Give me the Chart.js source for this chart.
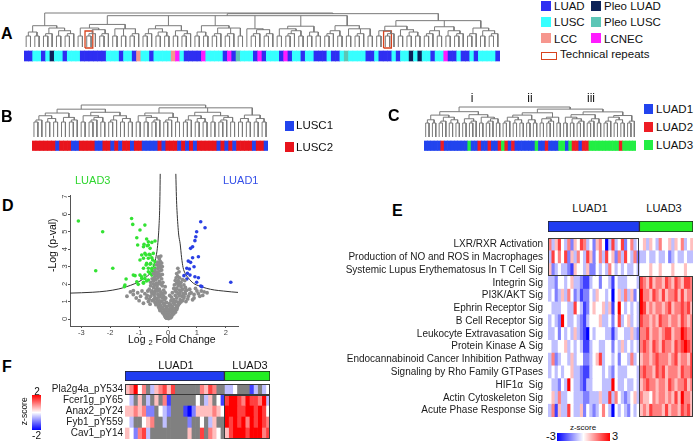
<!DOCTYPE html>
<html>
<head>
<meta charset="utf-8">
<script src="https://cdn.jsdelivr.net/npm/chart.js@4.4.1/dist/chart.umd.min.js"></script>
<style>
body { margin:0; background:#fff; width:695px; height:441px; position:relative; overflow:hidden;
       font-family:"Liberation Sans", Arial, sans-serif; color:#111; }
canvas, .t, .sq { position:absolute; }
.t { white-space:pre; line-height:1; }
.L { font-weight:bold; font-size:16px; color:#000; }
</style>
</head>
<body>
<canvas id="cA" width="476" height="54" style="left:24px;top:10px"></canvas>
<canvas id="cB" width="236" height="54" style="left:32px;top:100px"></canvas>
<canvas id="cC" width="212" height="54" style="left:424px;top:100px"></canvas>
<canvas id="cD" width="215" height="185" style="left:30px;top:165px"></canvas>
<canvas id="cEh" width="145" height="11" style="left:548px;top:221px"></canvas>
<canvas id="cE" width="393" height="179" style="left:300px;top:238px"></canvas>
<canvas id="cFh" width="145" height="10" style="left:125px;top:371px"></canvas>
<canvas id="cF" width="247" height="55" style="left:23px;top:384px"></canvas>
<script>
// ---- panel A: histology per sample, clustering tree ----
const classesA = "BBSSBSNSSB" + "SSSBBBBBBS" + "SSBSSBCSSB" + "SSSSCMSBBB" + "BMSSSSBMBT" +
                 "SSSBMBSSSB" + "MBSSBSSBBB" + "SBBSTSSSSB" + "BSBBBSBSSN" + "SNSSBSSMBB" + "SBBSBSSSSB";
const treeA = "(((22)(3(23)))((((2(33))(223))((3(22))(23))((22)(332))(1(33))((2(32))(22))((32)(232)))(((23)(2(22)))((32)(23))(3(23)))))";
const repeatPairs = [[14, 15], [83, 84]];
const legendA = [["B", "LUAD"], ["N", "Pleo LUAD"], ["S", "LUSC"], ["T", "Pleo LUSC"], ["C", "LCC"], ["M", "LCNEC"]];

// ---- panel B: LUSC subtypes ----
const classesB = "2222221222" + "1122221122" + "1212212211" + "1121222121" + "2122222121" + "2122221221";
const treeB = "((((3(22))(23))((2(32))(3(22))))(((2(23))(32))((3(22))(2(32)))((22)(22))))";
const legendB = [["1", "LUSC1"], ["2", "LUSC2"]];

// ---- panel C: LUAD subtypes ----
const classesC = "1111121111" + "1113112112" + "1123212111" + "1113112111" + "3313221223" + "3333333323" + "333";
const treeC = "((((22)(3(22)))((23)(2(32))))((((3(22))(22))((23)2))(((2(23))(32))((3(22))3))))";
const legendC = [["1", "LUAD1"], ["2", "LUAD2"], ["3", "LUAD3"]];
const clusterNames = ["i", "ii", "iii"];

// ---- panel D: volcano (log2 fold change, -log p) ----
const greyPts = [
  [-0.05,0.05],[0.02,0.03],[0.06,0.1],[-0.1,0.15],[0.1,0.2],[-0.02,0.2],[0.04,0.28],[-0.14,0.3],[0.15,0.3],[0,0.12],[-0.07,0.25],[0.12,0.12],[-0.03,0.32],
  [-0.2,0.4],[-0.12,0.45],[-0.05,0.38],[0.05,0.42],[0.12,0.5],[0.2,0.45],[-0.25,0.55],[0.25,0.6],[-0.08,0.55],[0.08,0.6],[0.17,0.35],[-0.17,0.58],[0.22,0.52],[-0.28,0.48],
  [-0.33,0.7],[-0.27,0.8],[-0.2,0.65],[-0.15,0.9],[-0.1,0.75],[0.1,0.8],[0.15,0.7],[0.22,0.85],[0.3,0.75],[0.35,0.95],[-0.38,0.95],[-0.22,1.0],[0.28,1.0],[0.4,0.9],
  [-0.42,0.82],[-0.3,0.92],[0.18,0.95],[0.32,0.65],[-0.05,0.7],[0.05,0.88],
  [-0.5,1.1],[-0.45,1.25],[-0.4,1.15],[-0.35,1.4],[-0.3,1.05],[-0.28,1.3],[-0.2,1.2],[-0.18,1.45],[-0.12,1.1],[0.12,1.25],[0.2,1.1],[0.25,1.35],[0.3,1.2],
  [0.35,1.45],[0.42,1.1],[0.48,1.3],[0.55,1.2],[0.6,1.45],[-0.55,1.45],[-0.6,1.3],[-0.48,1.38],[-0.38,1.02],[-0.25,1.42],[0.38,1.32],[0.5,1.05],[-0.15,1.3],
  [-1.3,1.55],[-1.2,1.4],[-1.05,1.5],[-0.95,1.3],[-0.9,1.6],[-0.8,1.45],[-0.75,1.2],[-0.7,1.6],[-0.68,1.0],[-1.1,1.2],[-0.85,0.9],[0.7,1.3],[0.8,1.5],
  [0.9,1.4],[1.0,1.6],[1.1,1.3],[1.25,1.55],[1.35,1.5],[0.75,1.7],[0.95,1.75],[0.65,1.65],[0.85,1.1],[1.2,1.35],[-1.42,1.3],[-0.62,0.85],[0.62,1.0],
  [-0.65,1.7],[-0.6,1.9],[-0.55,1.6],[-0.5,1.8],[-0.45,1.95],[-0.42,1.65],[-0.38,1.85],[-0.3,1.7],[-0.25,1.55],[-0.2,1.9],[0.25,1.6],[0.3,1.75],[0.35,1.9],
  [0.4,1.65],[0.45,1.85],[0.5,1.7],[0.55,1.95],[0.6,1.8],[-0.35,1.6],[-0.52,1.52],
  [-0.6,2.1],[-0.55,2.3],[-0.5,2.2],[-0.45,2.45],[-0.4,2.05],[-0.35,2.35],[-0.3,2.15],[-0.28,2.45],[-0.25,2.0],[0.3,2.05],[0.35,2.2],[0.4,2.35],[0.45,2.1],
  [0.5,2.25],[0.33,2.45],[-0.42,2.25],
  [-0.5,2.6],[-0.45,2.8],[-0.4,2.65],[-0.35,2.9],[-0.3,2.55],[-0.28,2.75],[-0.25,2.95],[-0.38,2.5],
  [-0.4,3.1],[-0.35,3.25],[-0.3,3.05],[-0.3,3.45],[-0.27,3.3],[-0.25,3.6],[-0.33,3.55],
  [-0.08,0.08],[0.08,0.06],[-0.12,0.22],[0.14,0.22],[-0.18,0.35],[0.2,0.3],[-0.22,0.62],[0.26,0.4],[-0.3,0.6],[0.3,0.55],[-0.35,0.85],[0.36,0.8],
  [-0.45,0.95],[0.45,0.98],[-0.25,0.72],[0.2,0.6],[-0.14,0.8],[0.0,0.55],[0.02,0.75],[-0.05,0.95],[0.1,1.05],[-0.08,1.2],[0.06,1.35],[-0.1,1.5],
  [0.15,1.5],[0.2,1.75],[-0.15,1.65],[-0.1,1.85],[0.22,1.95],[-0.18,2.1],[0.25,2.2],[-0.22,2.3],[0.28,2.35],[-0.2,2.55],[0.3,2.6],[-0.22,2.8],
  [0.38,2.7],[-0.2,3.0],[-0.22,3.2],[0.34,2.9],[-0.55,1.05],[-0.65,1.15],[-0.72,1.35],[-0.58,1.55],[0.68,1.15],[0.75,1.45],[0.6,1.6],[0.52,1.45],
  [0.45,1.6],[-0.45,1.5],[-0.32,1.25],[-0.4,1.7],[0.4,1.45],[0.3,1.55],[-0.5,2.0],[-0.35,2.0],[0.42,2.0],[-0.48,2.35],[0.38,2.1],[-0.42,2.55],
  [-0.35,2.7],[-0.32,3.0],[-0.28,3.15],[0.58,2.2],[0.55,1.3],[-1.0,1.05],[-1.2,1.62],[1.05,1.45],[1.15,1.6],[0.9,1.2]
];
const greenPts = [
  [-3.10,5.60],[-2.26,4.99],[-2.50,2.76],[-1.91,2.90],[-1.26,5.75],[-1.22,5.41],[-0.80,5.37],[-0.97,5.09],[-1.08,4.65],[-0.74,4.57],[-1.05,4.23],
  [-0.85,4.13],[-0.68,4.23],[-0.56,4.38],[-0.45,4.46],[-0.83,4.27],[-0.72,4.19],[-0.68,4.42],[-0.62,4.04],[-0.91,3.66],[-0.80,3.75],[-0.68,3.47],
  [-0.62,3.66],[-0.51,3.75],[-0.76,3.66],[-0.65,3.70],[-0.56,3.50],[-0.97,3.37],[-0.85,3.47],[-0.74,3.18],[-0.60,3.18],[-0.53,3.37],[-0.48,3.09],
  [-0.76,3.09],[-0.62,3.13],[-0.45,3.28],[-0.68,2.90],[-0.56,2.80],[-0.45,2.90],[-0.85,2.90],[-0.56,2.90],[-0.62,2.61],[-0.51,2.70],[-0.68,2.70],
  [-0.56,2.51],[-0.80,2.51],[-0.97,2.51],[-1.20,2.51],[-1.14,2.48],[-0.91,2.42],[-0.80,2.32],[-0.91,2.32],[-0.68,2.23],[-1.08,2.13],[-0.85,2.10],
  [-0.74,2.17],[-1.03,1.98],[-0.85,2.04],[-1.45,2.29],[-1.49,1.94],[-1.51,1.85],[-0.45,2.61]
];
const bluePts = [
  [1.13,5.56],[1.28,5.22],[0.99,4.99],[0.96,4.70],[0.93,4.48],[0.85,4.13],[0.78,4.04],[1.05,3.56],[0.85,3.50],[0.70,3.31],[0.78,3.24],[0.90,2.99],
  [0.65,2.90],[0.74,2.86],[0.67,2.61],[0.76,2.51],[0.93,2.42],[1.05,2.36],[0.65,2.29],[0.99,2.10],[1.13,1.89],[1.17,1.85],[2.17,2.10],[0.55,2.48]
];
const cutLeft = [[-3.39,1.48],[-2.6,1.53],[-2.12,1.6],[-1.7,1.72],[-1.43,1.85],[-1.15,2.02],[-0.97,2.17],[-0.78,2.38],[-0.62,2.61],[-0.52,2.95],
  [-0.45,3.28],[-0.4,3.7],[-0.37,4.04],[-0.33,4.8],[-0.31,5.37],[-0.29,6.2],[-0.28,7.0],[-0.27,8.3]];
const cutRight = [[0.27,8.3],[0.29,7.0],[0.31,6.2],[0.34,5.4],[0.37,4.8],[0.42,4.3],[0.47,3.5],[0.52,2.95],[0.59,2.61],[0.7,2.35],[0.88,2.04],
  [1.1,1.88],[1.34,1.75],[1.6,1.66],[1.91,1.6],[2.2,1.55],[2.42,1.52]];

// ---- panel E: pathway z-scores, LUAD1 | LUAD3 (digit 0..8 = -3..3) ----
const pathways = ["LXR/RXR Activation", "Production of NO and ROS in Macrophages", "Systemic Lupus Erythematosus In T Cell Sig",
  "Integrin Sig", "PI3K/AKT Sig", "Ephrin Receptor Sig", "B Cell Receptor Sig", "Leukocyte Extravasation Sig", "Protein Kinase A Sig",
  "Endocannabinoid Cancer Inhibition Pathway", "Signaling by Rho Family GTPases", "HIF1\u03b1  Sig", "Actin Cytoskeleton Sig", "Acute Phase Response Sig"];
const heatE_LUAD1 = [
  "63574 36254 76342 56403 73472 4634", "37464 72536 43752 46374 52637 4362", "52343 32154 43522 43436 43434 3343",
  "33244 34533 21134 42443 14333 4443", "34235 36423 12243 54434 04536 3524", "43334 43374 31245 44535 14843 4343",
  "34328 43343 21344 45334 24734 5343", "33424 34353 21043 44433 13443 3532", "43344 53434 31134 43344 24353 4343",
  "36234 43534 42234 57344 34244 3634", "34343 44533 21134 44343 24333 4443", "43324 38433 21334 44333 84334 3343",
  "45363 34433 32233 35337 36432 3453", "36153 37433 52432 34643 04343 2434"];
const heatE_LUAD3 = [
  "45354 36445 35463 45", "33433 43342 34334 33", "44454 45444 54445 44", "76575 66576 57657 76", "86657 65756 67575 66",
  "87565 66567 56676 75", "76656 57665 66576 56", "66756 65677 56687 66", "67657 65766 57678 76", "56656 76665 67566 57",
  "67665 76756 66576 67", "56766 56657 65667 56", "65546 56656 57586 65", "56576 66575 66576 75"];

// ---- panel F: phosphosite z-scores (digit 0..8 = -2..2, '.' = missing) ----
const sites = ["Pla2g4a_pY534", "Fcer1g_pY65", "Anax2_pY24", "Fyb1_pY559", "Cav1_pY14"];
const heatF_LUAD1 = ["56846 .3567 57... ...65 76..", "43.5. 3.5.6 1.... ..4.3 5.41", "55656 22.43 2...1 02555 5654",
  "43..4 56..3 ..... 2..4. 35..", "54267 3.... ..... 5..7. 654."];
const heatF_LUAD3 = ["334.. .13.3 4", "78876 87768 3", "88877 88787 4", "87878 68787 6", "57888 78886 7"];

const palA = {B: "#2e2ef2", S: "#36ffff", C: "#f6968e", N: "#0c2258", T: "#5cc6b6", M: "#ff1cff"};
const palB = {"1": "#2244ee", "2": "#e8141c"};
const palC = {"1": "#2244ee", "2": "#ee1c24", "3": "#22ee44"};
const LUAD1_COL = "#1f3cf0", LUAD3_COL = "#24ee24";

Chart.defaults.font.family = '"Liberation Sans", Arial, sans-serif';
Chart.defaults.color = "#222";
Chart.defaults.animation = false;
Chart.defaults.responsive = false;
Chart.defaults.plugins.legend.display = false;
Chart.defaults.plugins.tooltip.enabled = false;

function txt(s, x, y, size, extra) {
  const d = document.createElement("div");
  d.className = "t";
  d.textContent = s;
  d.style.left = x + "px";
  d.style.top = y + "px";
  d.style.fontSize = size + "px";
  if (extra) Object.assign(d.style, extra);
  document.body.appendChild(d);
  return d;
}
function sq(x, y, w, h, style) {
  const d = document.createElement("div");
  d.className = "sq";
  Object.assign(d.style, {left: x + "px", top: y + "px", width: w + "px", height: h + "px"}, style);
  document.body.appendChild(d);
}

// tree string: "(" ... ")" groups, digit n = a small chained cluster of n samples
function buildTree(str) {
  let pos = 0, leaf = 0;
  const nodes = [];
  function join(kids) {
    const nd = {kids, n: kids.reduce((a, k) => a + k.n, 0), x: (kids[0].x + kids[kids.length - 1].x) / 2};
    nodes.push(nd);
    return nd;
  }
  function read() {
    const ch = str[pos++];
    if (ch === "(") {
      const kids = [];
      while (str[pos] !== ")") kids.push(read());
      pos++;
      return join(kids);
    }
    let cur = {n: 1, x: leaf++, kids: null};
    for (let k = 1; k < +ch; k++) cur = join([cur, {n: 1, x: leaf++, kids: null}]);
    return cur;
  }
  const root = read();
  return {root, nodes};
}

function dendroPoints(tree, h2, hTop) {
  const N = tree.root.n;
  const hf = n => n === 1 ? 0 : h2 + (hTop - h2) * Math.log(n / 2) / Math.log(N / 2);
  const pts = [];
  for (const nd of tree.nodes) {
    const h = hf(nd.n), a = nd.kids[0], b = nd.kids[nd.kids.length - 1];
    pts.push({x: a.x, y: hf(a.n)}, {x: a.x, y: h}, {x: b.x, y: h}, {x: b.x, y: hf(b.n)}, {x: b.x, y: null});
    for (const k of nd.kids.slice(1, -1)) pts.push({x: k.x, y: hf(k.n)}, {x: k.x, y: h}, {x: k.x, y: null});
  }
  return pts;
}

function clusterPanel(id, treeStr, classStr, pal, geo, extra) {
  const tree = buildTree(treeStr);
  const cls = classStr.split("");
  new Chart(document.getElementById(id), {
    type: "bar",
    data: {
      datasets: [
        {type: "bar", data: cls.map((c, i) => ({x: i, y: geo.bar})), backgroundColor: cls.map(c => pal[c]),
         borderWidth: 0, barPercentage: 1, categoryPercentage: 1},
        {type: "line", data: dendroPoints(tree, geo.h2, geo.top), borderColor: "#7a7a7a", borderWidth: 1,
         pointRadius: 0, spanGaps: false}
      ].concat(extra || [])
    },
    options: {
      layout: {padding: 0},
      scales: {
        x: {type: "linear", min: -0.5, max: cls.length - 0.5, offset: false, display: false},
        y: {min: geo.ymin, max: geo.ymax, display: false}
      }
    }
  });
}

// technical repeat outlines around the repeated pairs
const repeatBoxes = [];
for (const [a, b] of repeatPairs) {
  repeatBoxes.push({x: a - 0.4, y: -1}, {x: a - 0.4, y: 16}, {x: b + 0.4, y: 16}, {x: b + 0.4, y: -1}, {x: a - 0.4, y: -1}, {x: a, y: null});
}

clusterPanel("cA", treeA, classesA, palA, {bar: [-4, -14], h2: 11, top: 34, ymin: -17, ymax: 37},
  [{type: "line", data: repeatBoxes, borderColor: "#d8421c", borderWidth: 1.3, pointRadius: 0, spanGaps: false}]);
clusterPanel("cB", treeB, classesB, palB, {bar: [-4, -13.5], h2: 15, top: 32, ymin: -17, ymax: 37});
clusterPanel("cC", treeC, classesC, palC, {bar: [-4, -13.5], h2: 14, top: 30, ymin: -17, ymax: 37});

// ---- volcano ----
const xy = p => ({x: p[0], y: p[1]});
new Chart(document.getElementById("cD"), {
  type: "scatter",
  data: {
    datasets: [
      {data: greyPts.map(xy), backgroundColor: "#8d8d8d", pointRadius: 1.9, borderWidth: 0},
      {data: greenPts.map(xy), backgroundColor: "#33e233", pointRadius: 1.8, borderWidth: 0},
      {data: bluePts.map(xy), backgroundColor: "#2a3fe4", pointRadius: 1.8, borderWidth: 0},
      {type: "line", data: cutLeft.map(xy), borderColor: "#333", borderWidth: 1, pointRadius: 0, clip: false, cubicInterpolationMode: "monotone"},
      {type: "line", data: cutRight.map(xy), borderColor: "#333", borderWidth: 1, pointRadius: 0, clip: false, cubicInterpolationMode: "monotone"}
    ]
  },
  options: {
    layout: {padding: {top: 30, right: 7, left: 0, bottom: 0}},
    scales: {
      x: {type: "linear", min: -3.39, max: 2.42,
          afterFit: s => { s.height = 24; },
          ticks: {stepSize: 1, includeBounds: false, font: {size: 7.5}, color: "#444", padding: 0},
          grid: {drawOnChartArea: false, tickLength: 2, color: "#555"}, border: {color: "#555"}},
      y: {min: -0.4, max: 7.09,
          afterFit: s => { s.width = 40; },
          ticks: {stepSize: 1, includeBounds: false, minRotation: 90, maxRotation: 90, crossAlign: "center",
                  font: {size: 7.5}, color: "#444", padding: 1},
          grid: {drawOnChartArea: false, tickLength: 2, color: "#555"}, border: {color: "#555"}}
    }
  }
});

// ---- heatmaps ----
function zColor(ch) {
  if (ch === ".") return "#808080";
  const t = (+ch - 4) / 4;
  if (t < 0) { const v = Math.round(255 * (1 + t)); return `rgb(${v},${v},255)`; }
  const v = Math.round(255 * (1 - t));
  return `rgb(255,${v},${v})`;
}

const boxPlugin = {
  id: "boxes",
  afterDatasetsDraw(chart, args, opts) {
    const {ctx, scales: {x, y}} = chart;
    const half = Math.abs(y.getPixelForValue(1) - y.getPixelForValue(0)) / 2;
    ctx.save();
    ctx.strokeStyle = "#3a3a3a";
    ctx.lineWidth = 1;
    for (const b of opts.list) {
      const x0 = x.getPixelForValue(b[0]), x1 = x.getPixelForValue(b[1]);
      const y0 = y.getPixelForValue(b[2]) - half, y1 = y.getPixelForValue(b[3]) + half;
      ctx.strokeRect(Math.round(x0) + 0.5, Math.round(y0) + 0.5, Math.round(x1 - x0) - 1, Math.round(y1 - y0) - 1);
    }
    ctx.restore();
  }
};

function heatmap(id, labels, left, right, axisW, pad, boxes) {
  const rows = labels.map((_, r) => (left[r] + right[r]).replace(/ /g, ""));
  const ncol = rows[0].length;
  const datasets = [];
  for (let j = 0; j < ncol; j++) {
    datasets.push({data: rows.map(() => 1), backgroundColor: rows.map(s => zColor(s[j])),
                   borderWidth: 0, barPercentage: 1, categoryPercentage: 1});
  }
  new Chart(document.getElementById(id), {
    type: "bar",
    data: {labels, datasets},
    plugins: [boxPlugin],
    options: {
      indexAxis: "y",
      layout: {padding: 0},
      plugins: {boxes: {list: boxes}},
      scales: {
        x: {stacked: true, min: 0, max: ncol, display: false},
        y: {stacked: true,
            afterFit: s => { s.width = axisW; s.paddingTop = 0; s.paddingBottom = 0; },
            ticks: {autoSkip: false, font: {size: 10}, color: "#1a1a1a", padding: pad},
            grid: {display: false, drawTicks: false}, border: {display: false}}
      }
    }
  });
}

const nE1 = heatE_LUAD1[0].replace(/ /g, "").length, nE3 = heatE_LUAD3[0].replace(/ /g, "").length;
heatmap("cE", pathways, heatE_LUAD1, heatE_LUAD3, 248, 5, [[0, nE1, 0, 2], [nE1, nE1 + nE3, 3, 13]]);
const nF1 = heatF_LUAD1[0].replace(/ /g, "").length, nF3 = heatF_LUAD3[0].replace(/ /g, "").length;
heatmap("cF", sites, heatF_LUAD1, heatF_LUAD3, 102, 2, [[0, nF1 + nF3, 0, 0], [nF1, nF1 + nF3, 1, 4]]);

function groupBar(id, n1, n3) {
  new Chart(document.getElementById(id), {
    type: "bar",
    data: {labels: [""], datasets: [
      {data: [n1], backgroundColor: LUAD1_COL, borderColor: "#222", borderWidth: 1, borderSkipped: false, barPercentage: 1, categoryPercentage: 1},
      {data: [n3], backgroundColor: LUAD3_COL, borderColor: "#222", borderWidth: 1, borderSkipped: false, barPercentage: 1, categoryPercentage: 1}
    ]},
    options: {indexAxis: "y", layout: {padding: 0},
      scales: {x: {stacked: true, min: 0, max: n1 + n3, display: false}, y: {stacked: true, display: false}}}
  });
}
groupBar("cEh", nE1, nE3);
groupBar("cFh", nF1, nF3);

// ---- texts ----
txt("A", 1, 26, 16).classList.add("L");
txt("B", 1, 109, 16).classList.add("L");
txt("C", 388, 108, 16).classList.add("L");
txt("D", 2, 198, 16).classList.add("L");
txt("E", 392, 203, 16).classList.add("L");
txt("F", 2, 359, 16).classList.add("L");

legendA.forEach(([k, name], i) => {
  const col = i % 2, row = Math.floor(i / 2);
  const x = col ? 591 : 541, y = 1 + row * 16.2;
  sq(x, y, 10, 10, {background: palA[k]});
  txt(name, x + 13, y + 0.2, 11.5);
});
sq(541, 51.5, 14, 6, {border: "1.5px solid #d8421c"});
txt("Technical repeats", 560, 48.5, 11.5);

legendB.forEach(([k, name], i) => {
  const y = 120.5 + i * 21.5;
  sq(285, y, 9, 10, {background: palB[k]});
  txt(name, 296, y - 0.5, 11.5);
});
legendC.forEach(([k, name], i) => {
  const y = 104 + i * 18;
  sq(644, y, 9, 10, {background: palC[k]});
  txt(name, 656, y - 0.5, 11.5);
});
[472, 530, 591].forEach((x, i) => txt(clusterNames[i], x, 91.5, 12, {transform: "translateX(-50%)"}));

txt("LUAD3", 75, 174.5, 11, {color: "#2fd62f"});
txt("LUAD1", 223, 174.5, 11, {color: "#3550e8"});
const xt = txt("", 128, 334, 10.5);
xt.innerHTML = 'Log <span style="font-size:7.5px;position:relative;top:2px">2</span> Fold Change';
txt("-Log (p-val)", 12, 240, 10.5, {width: "80px", textAlign: "center", transform: "rotate(-90deg)"});

txt("LUAD1", 590, 202.5, 11, {transform: "translateX(-50%)"});
txt("LUAD3", 664, 202.5, 11, {transform: "translateX(-50%)"});
txt("LUAD1", 176, 359.5, 11, {transform: "translateX(-50%)"});
txt("LUAD3", 250, 359.5, 11, {transform: "translateX(-50%)"});

sq(557, 433, 53, 8, {background: "linear-gradient(to right, #0000ff, #ffffff, #ff0000)"});
txt("z-score", 583, 423.5, 8, {transform: "translateX(-50%)"});
txt("-3", 546, 431, 11);
txt("3", 612, 431, 11);

sq(32, 395, 9, 35, {background: "linear-gradient(to bottom, #ff0000, #ffffff, #0000ff)"});
txt("2", 37, 387, 10, {transform: "translateX(-50%)"});
txt("-2", 36.5, 431, 10, {transform: "translateX(-50%)"});
txt("z-score", -6, 407, 8.5, {width: "60px", textAlign: "center", transform: "rotate(-90deg)"});
</script>
</body>
</html>
